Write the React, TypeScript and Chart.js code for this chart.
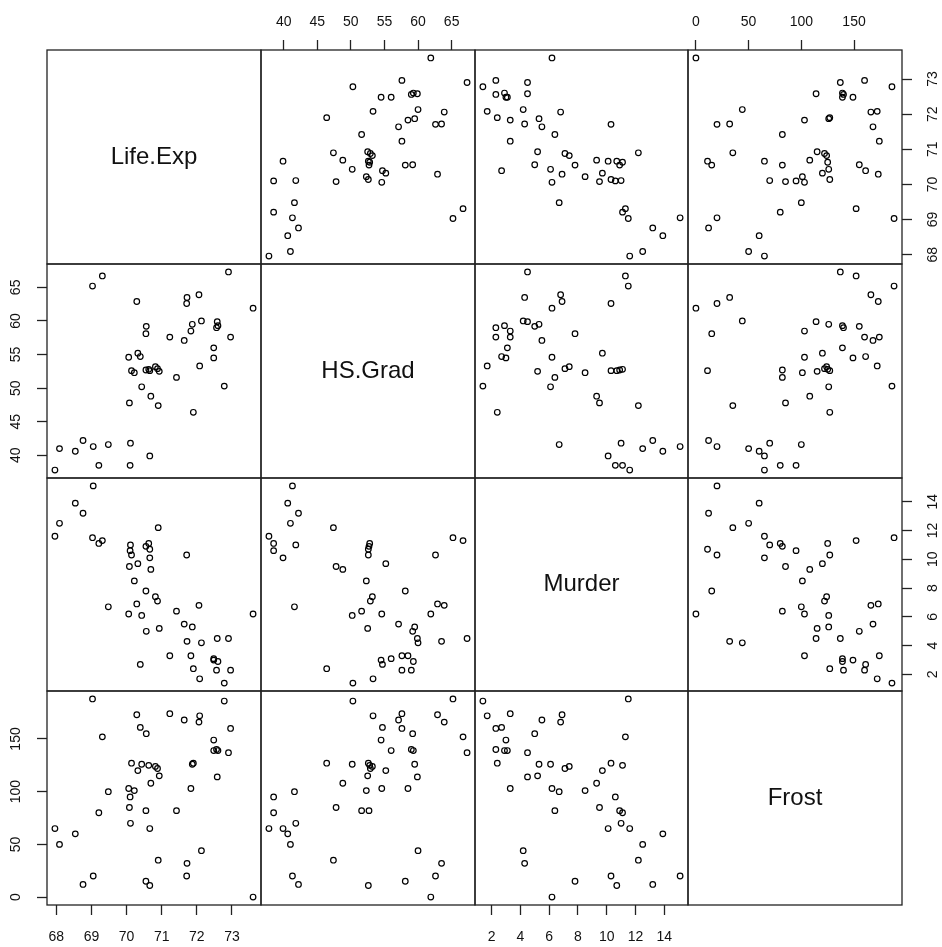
import React, { useEffect, useRef } from "react";
import { Chart, registerables } from "chart.js";

Chart.register(...registerables);

// Variables of the scatterplot matrix (one value per US state, alphabetical order)
const varNames = ["Life.Exp", "HS.Grad", "Murder", "Frost"];

const lifeExp = [
  69.05, 69.31, 70.55, 70.66, 71.71, 72.06, 72.48, 70.06, 70.66, 68.54,
  73.6, 71.87, 70.14, 70.88, 72.56, 72.58, 70.1, 68.76, 70.39, 70.22,
  71.83, 70.63, 72.96, 68.09, 70.69, 70.56, 72.6, 69.03, 71.23, 70.93,
  70.32, 70.55, 69.21, 72.78, 70.82, 71.42, 72.13, 70.43, 71.9, 67.96,
  72.08, 70.11, 70.9, 72.9, 71.64, 70.08, 71.72, 69.48, 72.48, 70.29,
];

const hsGrad = [
  41.3, 66.7, 58.1, 39.9, 62.6, 63.9, 56.0, 54.6, 52.6, 40.6,
  61.9, 59.5, 52.6, 52.9, 59.0, 59.9, 38.5, 42.2, 54.7, 52.3,
  58.5, 52.8, 57.6, 41.0, 48.8, 59.2, 59.3, 65.2, 57.6, 52.5,
  55.2, 52.7, 38.5, 50.3, 53.2, 51.6, 60.0, 50.2, 46.4, 37.8,
  53.3, 41.8, 47.4, 67.3, 57.1, 47.8, 63.5, 41.6, 54.5, 62.9,
];

const murder = [
  15.1, 11.3, 7.8, 10.1, 10.3, 6.8, 3.1, 6.2, 10.7, 13.9,
  6.2, 5.3, 10.3, 7.1, 2.3, 4.5, 10.6, 13.2, 2.7, 8.5,
  3.3, 11.1, 2.3, 12.5, 9.3, 5.0, 2.9, 11.5, 3.3, 5.2,
  9.7, 10.9, 11.1, 1.4, 7.4, 6.4, 4.2, 6.1, 2.4, 11.6,
  1.7, 11.0, 12.2, 4.5, 5.5, 9.5, 4.3, 6.7, 3.0, 6.9,
];

const frost = [
  20, 152, 15, 65, 20, 166, 139, 103, 11, 60,
  0, 126, 127, 122, 140, 114, 95, 12, 161, 101,
  103, 125, 160, 50, 108, 155, 139, 188, 174, 115,
  120, 82, 80, 186, 124, 82, 44, 126, 127, 65,
  172, 70, 35, 137, 168, 85, 32, 100, 149, 173,
];

const lifeExpTicks = [68, 69, 70, 71, 72, 73];
const hsGradTicks = [40, 45, 50, 55, 60, 65];
const murderTicks = [2, 4, 6, 8, 10, 12, 14];
const frostTicks = [0, 50, 100, 150];

const series = [lifeExp, hsGrad, murder, frost];
const tickSets = [lifeExpTicks, hsGradTicks, murderTicks, frostTicks];

// Page geometry of the panel grid
const GRID_LEFT = 47;
const GRID_TOP = 50;
const GRID_RIGHT = 902;
const GRID_BOTTOM = 905;
const N = 4;
const MARGIN = 50; // room around each panel for its axis
const TICK_LEN = 10;
const FONT_FAMILY = '"Liberation Sans", Arial, Helvetica, sans-serif';
const TICK_FONT_SIZE = 14;
const LABEL_FONT_SIZE = 24;
const INK = "#111";

function paddedRange(values: number[]): [number, number] {
  const lo = Math.min(...values);
  const hi = Math.max(...values);
  const ext = (hi - lo) * 0.04;
  return [lo - ext, hi + ext];
}

function colEdge(i: number) {
  return Math.round(GRID_LEFT + ((GRID_RIGHT - GRID_LEFT) * i) / N);
}
function rowEdge(i: number) {
  return Math.round(GRID_TOP + ((GRID_BOTTOM - GRID_TOP) * i) / N);
}

function widestLabel(ticks: number[]): number {
  const c = document.createElement("canvas").getContext("2d");
  if (!c) return 16;
  c.font = `${TICK_FONT_SIZE}px ${FONT_FAMILY}`;
  return Math.max(...ticks.map((t) => c.measureText(String(t)).width));
}

const framePlugin = {
  id: "panelFrame",
  afterDraw(chart: any, _args: any, opts: any) {
    const { ctx, chartArea } = chart;
    ctx.save();
    if (opts && opts.label) {
      ctx.fillStyle = INK;
      ctx.font = `${LABEL_FONT_SIZE}px ${FONT_FAMILY}`;
      ctx.textAlign = "center";
      ctx.textBaseline = "middle";
      ctx.fillText(
        opts.label,
        (chartArea.left + chartArea.right) / 2,
        (chartArea.top + chartArea.bottom) / 2
      );
    }
    ctx.strokeStyle = "#222";
    ctx.lineWidth = 1.3;
    ctx.strokeRect(
      chartArea.left,
      chartArea.top,
      chartArea.right - chartArea.left,
      chartArea.bottom - chartArea.top
    );
    ctx.restore();
  },
};

type Panel = { r: number; c: number; left: number; top: number; w: number; h: number };

const panels: Panel[] = [];
for (let r = 0; r < N; r++) {
  for (let c = 0; c < N; c++) {
    const x0 = colEdge(c);
    const x1 = colEdge(c + 1);
    const y0 = rowEdge(r);
    const y1 = rowEdge(r + 1);
    panels.push({
      r,
      c,
      left: x0 - MARGIN,
      top: y0 - MARGIN,
      w: x1 - x0 + 2 * MARGIN,
      h: y1 - y0 + 2 * MARGIN,
    });
  }
}

export default function App() {
  const refs = useRef<(HTMLCanvasElement | null)[]>([]);

  useEffect(() => {
    const charts: Chart[] = [];
    panels.forEach((p, idx) => {
      const canvas = refs.current[idx];
      if (!canvas) return;
      const { r, c } = p;
      const diag = r === c;
      const hasTop = r === 0 && c % 2 === 1;
      const hasBottom = r === N - 1 && c % 2 === 0;
      const hasLeft = c === 0 && r % 2 === 1;
      const hasRight = c === N - 1 && r % 2 === 0;
      const showX = !diag && (hasTop || hasBottom);
      const showY = !diag && (hasLeft || hasRight);

      const [xMin, xMax] = paddedRange(series[c]);
      const [yMin, yMax] = paddedRange(series[r]);
      const xTicks = tickSets[c];
      const yTicks = tickSets[r];
      const yWidest = widestLabel(yTicks);
      const yPad = hasLeft ? 30.5 - TICK_LEN - yWidest / 2 : 31 - TICK_LEN - yWidest / 2;

      const points = diag
        ? []
        : series[c].map((xv, k) => ({ x: xv, y: series[r][k] }));

      const tickFont = { family: FONT_FAMILY, size: TICK_FONT_SIZE };

      const chart = new Chart(canvas, {
        type: "scatter",
        data: {
          datasets: [
            {
              data: points,
              pointStyle: "circle",
              pointRadius: 2.8,
              pointBorderWidth: 1.2,
              borderColor: "#000",
              backgroundColor: "rgba(0,0,0,0)",
              showLine: false,
            } as any,
          ],
        },
        plugins: [framePlugin],
        options: {
          responsive: false,
          animation: false,
          events: [],
          layout: {
            padding: {
              left: showY && hasLeft ? 0 : MARGIN,
              right: showY && hasRight ? 0 : MARGIN,
              top: showX && hasTop ? 0 : MARGIN,
              bottom: showX && hasBottom ? 0 : MARGIN,
            },
          },
          plugins: {
            legend: { display: false },
            tooltip: { enabled: false },
            panelFrame: { label: diag ? varNames[r] : "" },
          } as any,
          scales: {
            x: {
              type: "linear",
              display: showX,
              position: hasTop ? "top" : "bottom",
              min: xMin,
              max: xMax,
              afterBuildTicks: (s: any) => {
                s.ticks = xTicks.map((v) => ({ value: v }));
              },
              afterFit: showX
                ? (s: any) => {
                    s.height = MARGIN;
                  }
                : undefined,
              grid: {
                drawOnChartArea: false,
                drawTicks: true,
                tickLength: TICK_LEN,
                tickColor: "#222",
                tickWidth: 1.3,
              },
              border: { display: false },
              ticks: {
                autoSkip: false,
                minRotation: 0,
                maxRotation: 0,
                padding: hasTop ? 9.5 : 13.5,
                color: INK,
                font: tickFont,
                callback: (v: any) => String(v),
              },
            },
            y: {
              type: "linear",
              display: showY,
              position: hasLeft ? "left" : "right",
              min: yMin,
              max: yMax,
              afterBuildTicks: (s: any) => {
                s.ticks = yTicks.map((v) => ({ value: v }));
              },
              afterFit: showY
                ? (s: any) => {
                    s.width = MARGIN;
                  }
                : undefined,
              grid: {
                drawOnChartArea: false,
                drawTicks: true,
                tickLength: TICK_LEN,
                tickColor: "#222",
                tickWidth: 1.3,
              },
              border: { display: false },
              ticks: {
                autoSkip: false,
                minRotation: 90,
                maxRotation: 90,
                crossAlign: "center",
                padding: yPad,
                color: INK,
                font: tickFont,
                callback: (v: any) => String(v),
              },
            },
          },
        } as any,
      });
      charts.push(chart);
    });
    return () => {
      charts.forEach((ch) => ch.destroy());
    };
  }, []);

  return (
    <div
      style={{
        position: "fixed",
        left: 0,
        top: 0,
        width: 942,
        height: 947,
        background: "#fff",
        overflow: "hidden",
      }}
    >
      {panels.map((p, idx) => (
        <canvas
          key={idx}
          ref={(el) => {
            refs.current[idx] = el;
          }}
          width={p.w}
          height={p.h}
          style={{
            position: "absolute",
            left: p.left,
            top: p.top,
            width: p.w,
            height: p.h,
          }}
        />
      ))}
    </div>
  );
}
